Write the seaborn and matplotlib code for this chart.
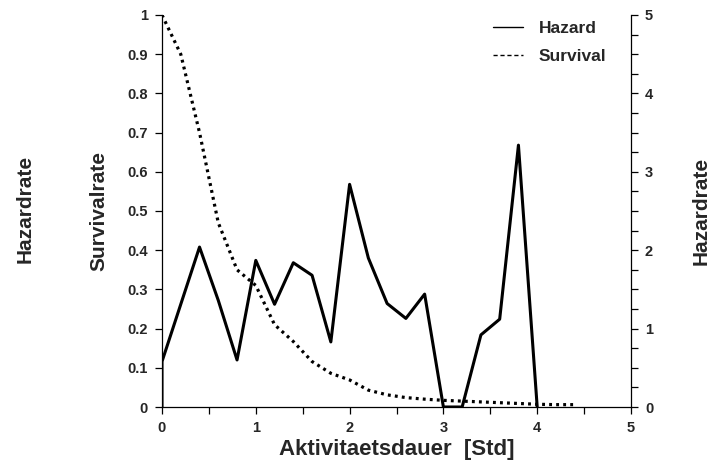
import matplotlib
matplotlib.use("Agg")
import matplotlib.pyplot as plt
from matplotlib.lines import Line2D
from matplotlib.ticker import FuncFormatter, MultipleLocator
import seaborn as sns
import pandas as pd

# Hazard rate per 0.2 h interval (right axis, 0..5)
hazard_x = [0.0, 0.0, 0.4, 0.6, 0.8, 1.0, 1.2, 1.4, 1.6, 1.8, 2.0, 2.2, 2.4, 2.6,
            2.8, 3.0, 3.2, 3.4, 3.6, 3.8, 4.0]
hazard_y = [0.0, 0.58, 2.04, 1.36, 0.60, 1.87, 1.31, 1.84, 1.68, 0.83, 2.84, 1.90,
            1.32, 1.13, 1.44, 0.0, 0.0, 0.92, 1.12, 3.34, 0.0]

# Survival rate (left axis, 0..1)
surv_x = [0.0, 0.2, 0.4, 0.6, 0.8, 1.0, 1.2, 1.4, 1.6, 1.8, 2.0, 2.2, 2.4, 2.6,
          2.8, 3.0, 3.2, 3.4, 3.6, 3.8, 4.0, 4.2, 4.4]
surv_y = [1.0, 0.90, 0.70, 0.47, 0.35, 0.31, 0.21, 0.167, 0.116, 0.086, 0.069,
          0.043, 0.031, 0.024, 0.020, 0.017, 0.015, 0.013, 0.011, 0.009, 0.007,
          0.006, 0.006]

legend_labels = ["Hazard", "Survival"]

sns.set_style("white")
plt.rcParams["font.family"] = ["Liberation Sans", "DejaVu Sans"]

fig = plt.figure(figsize=(7.22, 4.61), dpi=100)
ax = fig.add_axes([162 / 722, 1 - 407 / 461, (631 - 162) / 722, (407 - 15) / 461])
ax2 = ax.twinx()

surv_df = pd.DataFrame({"t": surv_x, "s": surv_y})
haz_df = pd.DataFrame({"t": hazard_x, "h": hazard_y})

sns.lineplot(data=surv_df, x="t", y="s", ax=ax, color="black", lw=2.3,
             linestyle=(0, (0.9, 1.3)), sort=False, estimator=None)
sns.lineplot(data=haz_df, x="t", y="h", ax=ax2, color="black", lw=2.2,
             sort=False, estimator=None)

ax.set_xlim(0, 5)
ax.set_ylim(0, 1)
ax2.set_ylim(0, 5)

ax.xaxis.set_major_locator(MultipleLocator(1))
ax.xaxis.set_minor_locator(MultipleLocator(0.5))
ax.yaxis.set_major_locator(MultipleLocator(0.1))
ax2.yaxis.set_major_locator(MultipleLocator(1))
ax2.yaxis.set_minor_locator(MultipleLocator(0.25))
fmt = FuncFormatter(lambda v, p: f"{v:g}")
ax.yaxis.set_major_formatter(fmt)
ax.xaxis.set_major_formatter(fmt)
ax2.yaxis.set_major_formatter(fmt)

for a in (ax, ax2):
    a.spines["top"].set_visible(False)
    for s in a.spines.values():
        s.set_linewidth(0.9)
        s.set_color("black")
ax.spines["right"].set_visible(False)
ax2.spines["left"].set_visible(False)
ax2.spines["bottom"].set_visible(False)

tick_kw = dict(direction="out", length=5, width=0.9, color="black",
               labelsize=10.5, pad=5)
ax.tick_params(axis="both", which="both", bottom=True, left=True, **tick_kw)
ax2.tick_params(axis="y", which="both", right=True, **tick_kw)
for lbl in ax.get_xticklabels() + ax.get_yticklabels() + ax2.get_yticklabels():
    lbl.set_fontweight("bold")

ax.set_xlabel("Aktivitaetsdauer  [Std]", fontsize=16, fontweight="bold",
              labelpad=3)
ax.set_ylabel("Survivalrate", fontsize=15, fontweight="bold", labelpad=14)
ax2.set_ylabel("Hazardrate", fontsize=15, fontweight="bold", labelpad=28)
fig.text(25 / 722, 1 - 209 / 461, "Hazardrate", rotation=90, fontsize=15,
         fontweight="bold", ha="center", va="center")

handles = [Line2D([], [], color="black", lw=1.0, linestyle="-"),
           Line2D([], [], color="black", lw=1.0, linestyle=(0, (3, 2)))]
ax.legend(handles, legend_labels, loc="upper left", frameon=False,
          prop={"size": 12.5, "weight": "bold"}, handlelength=1.75,
          handletextpad=0.9, labelspacing=0.72,
          bbox_to_anchor=((477 - 162) / 469, 1.025))

fig.savefig("out.png", dpi=100)
